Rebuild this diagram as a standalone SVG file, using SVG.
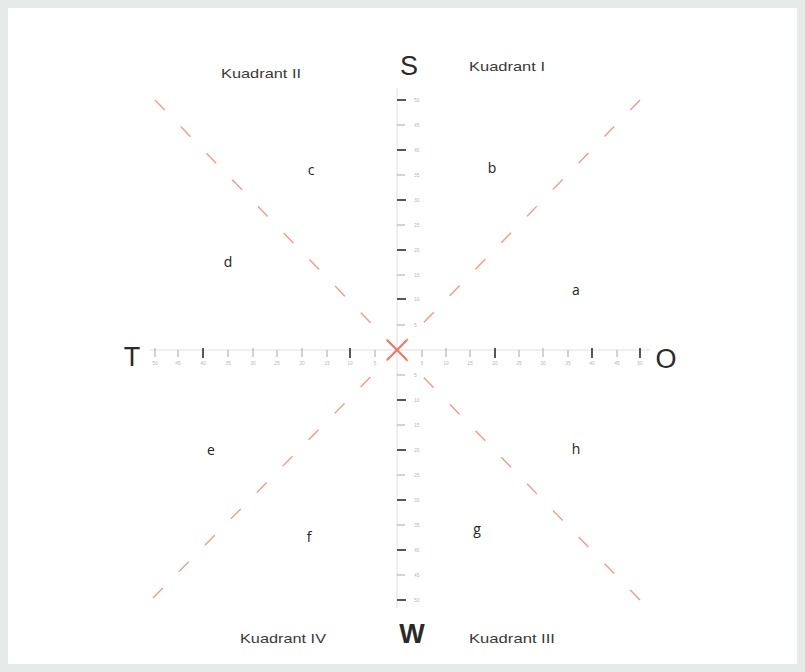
<svg xmlns="http://www.w3.org/2000/svg" width="805" height="672" viewBox="0 0 805 672">
<style>
.quad{font-family:"Liberation Sans",Arial,sans-serif;font-size:13px;fill:#3a3a3a}
.dir{font-family:"Liberation Sans",Arial,sans-serif;font-size:27px;fill:#2a2a2a}
.lab{font-family:"Open Sans","Liberation Sans",sans-serif;font-size:14px;fill:#222}
.num{font-family:"Liberation Sans",Arial,sans-serif;font-size:5px;fill:#b8b8b8}
.axis{stroke:#dedede;stroke-width:1;fill:none}
.tk{stroke:#a8a8a8;stroke-width:1}
.tkM{stroke:#444;stroke-width:1.8}
.diag{stroke:#f29a8c;stroke-width:1.4;stroke-dasharray:14 23;fill:none}
.cross{stroke:#f07868;stroke-width:2;fill:none}
</style>
<rect x="0" y="0" width="805" height="672" fill="#e6eae8"/>
<rect x="8" y="8" width="789" height="656" fill="#ffffff"/>
<g id="connectors">
<line class="diag" x1="155" y1="100" x2="397" y2="350"/>
<line class="diag" x1="640" y1="600" x2="397" y2="350"/>
<line class="diag" x1="640" y1="100" x2="397" y2="350"/>
<line class="diag" x1="153" y1="598" x2="397" y2="350"/>
<line class="axis" x1="150" y1="350" x2="650" y2="350"/>
<line class="axis" x1="397" y1="88" x2="397" y2="608"/>
<line class="cross" x1="387" y1="340" x2="407" y2="360"/>
<line class="cross" x1="407" y1="340" x2="387" y2="360"/>
</g>
<g id="ticks-vertical">
<line class="tkM" x1="397" y1="100" x2="406" y2="100"/>
<line class="tk" x1="397" y1="125" x2="405" y2="125"/>
<line class="tkM" x1="397" y1="150" x2="406" y2="150"/>
<line class="tk" x1="397" y1="175" x2="405" y2="175"/>
<line class="tkM" x1="397" y1="200" x2="406" y2="200"/>
<line class="tk" x1="397" y1="225" x2="405" y2="225"/>
<line class="tkM" x1="397" y1="250" x2="406" y2="250"/>
<line class="tk" x1="397" y1="275" x2="405" y2="275"/>
<line class="tkM" x1="397" y1="299" x2="406" y2="299"/>
<line class="tk" x1="397" y1="325" x2="405" y2="325"/>
<line class="tk" x1="397" y1="375" x2="405" y2="375"/>
<line class="tkM" x1="397" y1="400" x2="406" y2="400"/>
<line class="tk" x1="397" y1="425" x2="405" y2="425"/>
<line class="tkM" x1="397" y1="450" x2="406" y2="450"/>
<line class="tk" x1="397" y1="475" x2="405" y2="475"/>
<line class="tkM" x1="397" y1="500" x2="406" y2="500"/>
<line class="tk" x1="397" y1="525" x2="405" y2="525"/>
<line class="tkM" x1="397" y1="550" x2="406" y2="550"/>
<line class="tk" x1="397" y1="575" x2="405" y2="575"/>
<line class="tkM" x1="397" y1="600" x2="406" y2="600"/>
<g class="num">
<text x="414" y="102">50</text><text x="414" y="127">45</text><text x="414" y="152">40</text><text x="414" y="177">35</text><text x="414" y="202">30</text>
<text x="414" y="227">25</text><text x="414" y="252">20</text><text x="414" y="277">15</text><text x="414" y="301">10</text><text x="414" y="327">5</text>
<text x="414" y="377">5</text><text x="414" y="402">10</text><text x="414" y="427">15</text><text x="414" y="452">20</text><text x="414" y="477">25</text>
<text x="414" y="502">30</text><text x="414" y="527">35</text><text x="414" y="552">40</text><text x="414" y="577">45</text><text x="414" y="602">50</text>
</g>
</g>
<g id="ticks-horizontal">
<line class="tk" x1="155" y1="348" x2="155" y2="357"/>
<line class="tk" x1="178" y1="350" x2="178" y2="357"/>
<line class="tkM" x1="203" y1="348" x2="203" y2="358"/>
<line class="tk" x1="228" y1="350" x2="228" y2="357"/>
<line class="tk" x1="253" y1="348" x2="253" y2="357"/>
<line class="tk" x1="277" y1="350" x2="277" y2="357"/>
<line class="tk" x1="302" y1="348" x2="302" y2="357"/>
<line class="tk" x1="327" y1="350" x2="327" y2="357"/>
<line class="tkM" x1="350" y1="348" x2="350" y2="358"/>
<line class="tk" x1="375" y1="350" x2="375" y2="357"/>
<line class="tk" x1="422" y1="350" x2="422" y2="357"/>
<line class="tk" x1="446" y1="348" x2="446" y2="357"/>
<line class="tk" x1="470" y1="350" x2="470" y2="357"/>
<line class="tkM" x1="495" y1="348" x2="495" y2="358"/>
<line class="tk" x1="519" y1="350" x2="519" y2="357"/>
<line class="tk" x1="543" y1="348" x2="543" y2="357"/>
<line class="tk" x1="568" y1="350" x2="568" y2="357"/>
<line class="tkM" x1="592" y1="348" x2="592" y2="358"/>
<line class="tk" x1="617" y1="350" x2="617" y2="357"/>
<line class="tkM" x1="640" y1="348" x2="640" y2="358"/>
<g class="num" text-anchor="middle">
<text x="155" y="365">50</text><text x="178" y="365">45</text><text x="203" y="365">40</text><text x="228" y="365">35</text><text x="253" y="365">30</text>
<text x="277" y="365">25</text><text x="302" y="365">20</text><text x="327" y="365">15</text><text x="350" y="365">10</text><text x="375" y="365">5</text>
<text x="422" y="365">5</text><text x="446" y="365">10</text><text x="470" y="365">15</text><text x="495" y="365">20</text><text x="519" y="365">25</text>
<text x="543" y="365">30</text><text x="568" y="365">35</text><text x="592" y="365">40</text><text x="617" y="365">45</text><text x="640" y="365">50</text>
</g>
</g>
<g id="dir-S"><text class="dir" x="409" y="75" text-anchor="middle">S</text></g>
<g id="dir-T"><text class="dir" x="132" y="366" text-anchor="middle">T</text></g>
<g id="dir-O"><text class="dir" x="666" y="368" text-anchor="middle">O</text></g>
<g id="dir-W"><text class="dir" x="412" y="643" text-anchor="middle" font-weight="bold" font-size="24">W</text></g>
<g id="kuadrant-1"><text class="quad" x="469" y="71" textLength="76" lengthAdjust="spacingAndGlyphs">Kuadrant I</text></g>
<g id="kuadrant-2"><text class="quad" x="221" y="78" textLength="80" lengthAdjust="spacingAndGlyphs">Kuadrant II</text></g>
<g id="kuadrant-3"><text class="quad" x="469" y="643" textLength="86" lengthAdjust="spacingAndGlyphs">Kuadrant III</text></g>
<g id="kuadrant-4"><text class="quad" x="240" y="643" textLength="86" lengthAdjust="spacingAndGlyphs">Kuadrant IV</text></g>
<g id="lab-a"><text class="lab" x="576" y="295" text-anchor="middle">a</text></g>
<g id="lab-b"><text class="lab" x="492" y="173" text-anchor="middle">b</text></g>
<g id="lab-c"><text class="lab" x="311" y="175" text-anchor="middle">c</text></g>
<g id="lab-d"><text class="lab" x="228" y="267" text-anchor="middle">d</text></g>
<g id="lab-e"><text class="lab" x="211" y="455" text-anchor="middle">e</text></g>
<g id="lab-f"><text class="lab" x="309" y="542" text-anchor="middle">f</text></g>
<g id="lab-g"><text class="lab" x="477" y="534" text-anchor="middle">g</text></g>
<g id="lab-h"><text class="lab" x="576" y="454" text-anchor="middle">h</text></g>
</svg>
